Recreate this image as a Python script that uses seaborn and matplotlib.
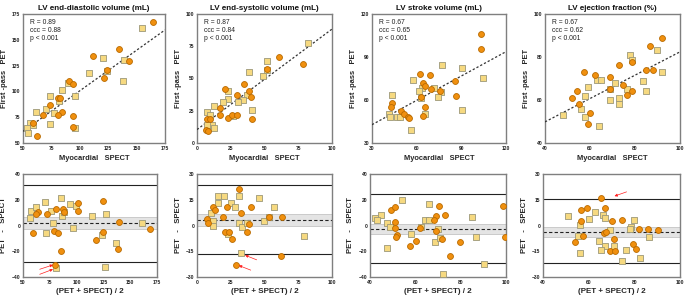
import numpy as np
import matplotlib
matplotlib.use("Agg")
import matplotlib.pyplot as plt
import seaborn as sns

sns.set_theme(style="white")
plt.rcParams['font.family'] = ['Liberation Sans', 'DejaVu Sans']

# ---- data ----
titles = ["LV end-diastolic volume (mL)", "LV end-systolic volume (mL)",
          "LV stroke volume (mL)", "LV ejection fraction (%)"]
stats_r = ["0.89", "0.87", "0.67", "0.67"]
stats_ccc = ["0.88", "0.84", "0.65", "0.62"]

# scatter: SPECT (x) vs PET (y); circles and squares are the two groups
edv_c_x = [164.4, 134.5, 112, 143.4, 124.2, 121.5, 90.2, 93.7, 80.4, 82.8, 73.9, 84.6, 68, 80.4, 93.7, 93.7, 58.6, 62.7]
edv_c_y = [166.9, 141, 133.9, 129, 121.2, 112.8, 109.6, 107.3, 94, 94, 87, 79.8, 76.9, 76.9, 75.9, 65.2, 69.4, 57.1]
edv_s_x = [154.9, 120.3, 139.2, 107.9, 124.2, 138.4, 89.9, 84.3, 73.9, 96.1, 81.6, 70.1, 61.5, 76.9, 73.9, 56.2, 58.6, 53.3, 54.2, 96.1]
edv_s_y = [161.1, 131.9, 130, 118.3, 120, 109.9, 108.3, 101.8, 96, 96, 90.5, 82.7, 80.1, 79.1, 68.8, 69.8, 67.8, 64.3, 60, 64.3]

esv_c_x = [60.7, 78.6, 51.8, 34.9, 20.9, 38.8, 29.7, 39.8, 17.2, 17.2, 7.4, 9.8, 23.3, 26, 29.5, 40.8, 6.4, 8.4]
esv_c_y = [66.3, 61.1, 57, 46.1, 42.2, 40.4, 37, 36, 26.9, 22, 18.4, 18.4, 19.2, 21.5, 22, 18.4, 10.1, 9.1]
esv_s_x = [82.3, 51.8, 38.8, 51.6, 48.6, 22.9, 37.3, 22.9, 19.2, 33.9, 30.7, 12.3, 40.8, 7.4, 9.3, 26.5, 11.1, 7.4, 12.3]
esv_s_y = [77.2, 63.2, 55.2, 56.7, 52.3, 40.4, 37.3, 34.2, 32.1, 33.2, 32.1, 29, 25.4, 24.1, 21.8, 21, 14.2, 13.7, 11.9]

sv_c_x = [103, 103.2, 62.2, 68.7, 64.5, 65.4, 85.5, 69.8, 75.4, 62.9, 86.2, 43.4, 42.5, 49.3, 51.8, 54.4, 54.7, 65.6, 64.5]
sv_c_y = [106.2, 95.3, 78.3, 77.1, 72.2, 70.1, 73.4, 67.4, 66.1, 62, 63.1, 58, 55.2, 52.1, 50, 48.4, 47.5, 54.8, 49.1]
sv_s_x = [76.8, 90.4, 104.5, 57.8, 63.6, 61.6, 71.9, 76.4, 43.4, 62.7, 74.6, 90.4, 41.6, 42.3, 46.8, 49, 65.6, 56.4]
sv_s_y = [84.1, 82, 75, 74.3, 68.2, 66.1, 68.7, 65.9, 63.8, 61.2, 61.9, 53.3, 50, 48.2, 48.2, 48.2, 50.3, 39.1]

ef_c_x = [91.9, 86.7, 72.9, 78.8, 57.2, 62.1, 68.7, 84.7, 87.9, 54.1, 68.7, 74.8, 78.8, 76.6, 52, 55.1, 59.9, 59]
ef_c_y = [89, 85.1, 76.1, 77.6, 72.9, 71.8, 70.9, 74, 74, 64.1, 65.2, 66.9, 64.1, 62.1, 61, 58, 54, 49]
ef_s_x = [77.9, 89.6, 78.8, 63, 64.8, 71, 59, 68.7, 76.6, 83.6, 91.9, 84.7, 57.9, 72.9, 68.7, 72.9, 56, 57.9, 48.1, 64]
ef_s_y = [80.9, 83.1, 78.4, 69.3, 69.3, 68.1, 66, 64.9, 64.9, 68.9, 73, 64.1, 61.9, 61.1, 60, 58, 56, 52, 52.9, 48.1]

# regression line (slope, intercept)
fit_slope = [0.786, 0.779, 0.566, 0.543]
fit_icpt = [22.0, 10.4, 25.8, 28.1]

# Bland-Altman: mean (x) vs difference (y)
ba_edv_c_x = [63.7, 62.1, 72.3, 81.1, 87.3, 88.6, 101, 101.6, 124.3, 59.3, 79.2, 82.3, 85.4, 118.4, 124.6, 139.6, 138.7, 168.8, 80.2]
ba_edv_c_y = [10.6, 9.1, 8.6, 12.5, 12.5, 10.4, 17.1, 11.2, 19.2, -5.5, -4.2, -5.5, -19.5, -11.4, -5.2, 2.6, -18.4, -2.6, -30.6]
ba_edv_s_x = [57.8, 62.1, 56.2, 70.2, 76.1, 85.1, 93.5, 99.1, 86.1, 78.1, 71.5, 96.9, 114.1, 127.8, 123.7, 137.1, 160.7, 80.5, 126.2, 87.9]
ba_edv_s_y = [11.2, 14, 6.2, 18.4, 11.2, 21.6, 16.6, 15.3, 7.5, 1.6, -5.5, -1.6, 7.5, 8.6, -7.5, -13.5, 1.8, -33.2, -32.5, 10.6]

ba_esv_c_x = [31.2, 12, 22.4, 13.3, 39.8, 32.9, 19.2, 7.6, 8.4, 38.8, 20.9, 23.6, 37.3, 25.8, 53.1, 63.1, 62.4, 29]
ba_esv_c_y = [21, 10.8, 10.8, 8.8, 10.8, 7.3, 4.9, 3.9, 1.2, 1, -3.9, -3.9, -3.9, -8, 4.7, 4.9, -18, -23]
ba_esv_s_x = [15.5, 20.1, 31.2, 15.5, 25.1, 28.3, 46.2, 57, 10.1, 12, 11.5, 31.2, 33.2, 36.9, 49.9, 53.6, 23.1, 79.1, 32.4]
ba_esv_s_y = [17.1, 17.1, 17.1, 13.1, 13.1, 10.8, 16.1, 10.8, 7.3, 2.9, 0, 1.4, -1, 1.4, 2.9, 5.1, -4.9, -6.1, -16.1]

ba_sv_c_x = [49.1, 51.2, 70.4, 73, 69, 68.2, 51.2, 51.2, 61.9, 69.3, 51.8, 51.4, 60.3, 57.5, 71.7, 79.7, 75.1, 98.5, 99.6]
ba_sv_c_y = [12.3, 14.4, 15.4, 8.4, 7.1, 4.2, 2.4, -1.8, -2.1, -3.9, -7.1, -8.6, -12, -16, -10.7, -12.5, -23.8, 15.4, -8.9]
ba_sv_s_x = [54.3, 66.2, 42.2, 45, 84.8, 47.7, 49, 64.3, 66.2, 62.6, 70.1, 58.1, 68.6, 71.1, 86.6, 47.3, 90.1, 72.1, 43.2]
ba_sv_s_y = [20.1, 16.5, 6, 8, 6.7, 1.6, -1, 4.2, 4.2, -1.3, -2.9, -6.9, -12.6, -10, -8.9, -17.5, -30, -37.6, 4.5]

ba_ef_c_x = [65.2, 67.1, 59.3, 56.7, 56.7, 70, 74.5, 81.9, 85.8, 90.5, 57.3, 66.8, 67.4, 54.2, 71.1, 69.4, 71.6, 79.4, 80.8]
ba_ef_c_y = [16.1, 10, 10.2, 9, 2.9, 2.4, 3.1, -2.2, -1.8, -2.7, -5.9, -4.5, -3.5, -9.8, -7.8, -14.7, -14.7, -10.8, -13.9]
ba_ef_s_x = [50.8, 60.2, 62.7, 66.1, 67.1, 79.7, 56.1, 69.3, 78.4, 78.1, 55.4, 64.6, 67.1, 70.9, 65.6, 56.1, 76.3, 82.4, 74.5, 86.4]
ba_ef_s_y = [5.3, 3.9, 7.6, 6.3, 4.1, 3.1, 0.2, -2.5, -0.8, -2, -5.9, -8.8, -12, -12, -14.5, -15.9, -14.5, -18.8, -20.6, -6.9]

# mean bias, its band, and limits of agreement
ba_mean = [1.8, 3.3, -2.6, -3.5]
ba_band_lo = [-3.1, -0.2, -6.5, -6.9]
ba_band_hi = [6.5, 6.9, 0.8, -0.8]
ba_loa_lo = [-28.6, -16.7, -29.3, -22.0]
ba_loa_hi = [31.7, 23.7, 24.3, 15.3]

# red arrows: (x_start, y_start, x_end, y_end)
arrows = [
    [(65.6, -34.0, 78.0, -30.6), (65.6, -37.9, 78.0, -34.0)],
    [(44.2, -20.0, 35.6, -17.3), (39.8, -26.0, 31.0, -23.3)],
    [],
    [(76.6, 19.6, 71.3, 17.1)],
]

top_lims = [(50, 175, 25), (0, 100, 25), (30, 120, 30), (40, 100, 20)]
bot_xlims = [(50, 175, 25), (0, 100, 25), (40, 100, 20), (40, 100, 20)]
bot_ylims = [(-40, 40, 20), (-30, 30, 15), (-40, 40, 20), (-30, 30, 15)]

top_data = [(edv_c_x, edv_c_y, edv_s_x, edv_s_y), (esv_c_x, esv_c_y, esv_s_x, esv_s_y),
            (sv_c_x, sv_c_y, sv_s_x, sv_s_y), (ef_c_x, ef_c_y, ef_s_x, ef_s_y)]
bot_data = [(ba_edv_c_x, ba_edv_c_y, ba_edv_s_x, ba_edv_s_y), (ba_esv_c_x, ba_esv_c_y, ba_esv_s_x, ba_esv_s_y),
            (ba_sv_c_x, ba_sv_c_y, ba_sv_s_x, ba_sv_s_y), (ba_ef_c_x, ba_ef_c_y, ba_ef_s_x, ba_ef_s_y)]

# ---- style ----
circ_fc, circ_ec = "#F0900F", "#B86A00"
sq_fc, sq_ec = "#F6D980", "#9C9878"
spine_col = "#7F7F7F"
W, H = 685, 297

# axes boxes in pixels: left, right, top, bottom
top_box = [(23, 165, 14, 143), (197, 332, 14, 143), (372, 506, 14, 143), (545, 680, 14, 143)]
bot_box = [(23, 157, 174, 277), (197, 332, 174, 277), (370, 506, 174, 277), (543, 680, 174, 277)]

fig = plt.figure(figsize=(W / 100, H / 100), dpi=100)


def make_ax(box):
    l, r, t, b = box
    ax = fig.add_axes([l / W, 1 - b / H, (r - l) / W, (b - t) / H])
    for s in ax.spines.values():
        s.set_color(spine_col)
        s.set_linewidth(1.0)
    ax.tick_params(length=0, pad=2, labelsize=3.6, labelcolor="#222222")
    return ax


def scatter_groups(ax, d):
    cx, cy, sx, sy = d
    sns.scatterplot(x=sx, y=sy, ax=ax, marker="s", s=16, color=sq_fc,
                    edgecolor=sq_ec, linewidth=0.6, zorder=11)
    sns.scatterplot(x=cx, y=cy, ax=ax, marker="o", s=18, color=circ_fc,
                    edgecolor=circ_ec, linewidth=0.6, zorder=12)


def bold_ticks(ax):
    for lab in ax.get_xticklabels() + ax.get_yticklabels():
        lab.set_fontweight("bold")


for i in range(4):
    # scatter panel
    ax = make_ax(top_box[i])
    lo, hi, st = top_lims[i]
    scatter_groups(ax, top_data[i])
    xs = np.array([lo, hi], dtype=float)
    # dotted fit line, under the markers
    ax.plot(xs, fit_slope[i] * xs + fit_icpt[i], color="#333333", linewidth=0.9,
            linestyle=(0, (1.8, 1.6)), zorder=10)
    ax.set_xlim(lo, hi)
    ax.set_ylim(lo, hi)
    ax.set_xticks(np.arange(lo, hi + 1, st))
    ax.set_yticks(np.arange(lo, hi + 1, st))
    bold_ticks(ax)
    ax.set_title(titles[i], fontsize=5.8, fontweight="bold", pad=3, color="#111111")
    ax.set_xlabel("Myocardial   SPECT", fontsize=5.4, fontweight="bold", labelpad=3)
    ax.set_ylabel("First -pass   PET", fontsize=5.4, fontweight="bold", labelpad=3)
    ax.text(0.05, 0.96, "R = %s\nccc = %s\np < 0.001" % (stats_r[i], stats_ccc[i]),
            transform=ax.transAxes, va="top", ha="left", fontsize=4.9, linespacing=1.15, color="#222222")

    # Bland-Altman panel
    ax = make_ax(bot_box[i])
    ax.axhspan(ba_band_lo[i], ba_band_hi[i], facecolor="#E4E4E4", edgecolor="#BBBBBB", lw=0.5, zorder=1)
    ax.axhline(ba_mean[i], color="#222222", ls=(0, (3, 2)), lw=0.8, zorder=2)
    ax.axhline(ba_loa_lo[i], color="#222222", lw=0.8, zorder=2)
    ax.axhline(ba_loa_hi[i], color="#222222", lw=0.8, zorder=2)
    scatter_groups(ax, bot_data[i])
    for x0, y0, x1, y1 in arrows[i]:
        ax.annotate("", xy=(x1, y1), xytext=(x0, y0),
                    arrowprops=dict(arrowstyle="-|>", color="#FF2020", lw=0.5,
                                    mutation_scale=4, shrinkA=0, shrinkB=0), zorder=13)
    xlo, xhi, xst = bot_xlims[i]
    ylo, yhi, yst = bot_ylims[i]
    ax.set_xlim(xlo, xhi)
    ax.set_ylim(ylo, yhi)
    ax.set_xticks(np.arange(xlo, xhi + 1, xst))
    ax.set_yticks(np.arange(ylo, yhi + 1, yst))
    bold_ticks(ax)
    ax.set_xlabel("(PET + SPECT) / 2", fontsize=5.8, fontweight="bold", labelpad=2)
    ax.set_ylabel("PET   -   SPECT", fontsize=5.6, fontweight="bold", labelpad=3)

fig.savefig("out.png", dpi=100)
